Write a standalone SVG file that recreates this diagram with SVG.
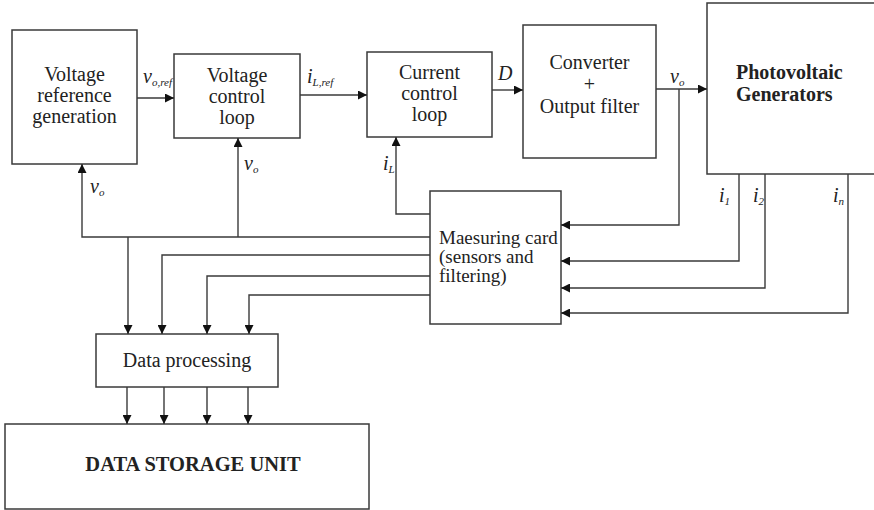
<svg xmlns="http://www.w3.org/2000/svg" width="874" height="510" viewBox="0 0 874 510">
  <style>
    .box { fill: #fff; stroke: #3a3a3a; stroke-width: 1.5; }
    .wire { fill: none; stroke: #3a3a3a; stroke-width: 1.4; }
    .t { font-family: "Liberation Serif", "Times New Roman", serif; font-size: 20px; fill: #222; }
    .c { text-anchor: middle; }
    .b { font-weight: bold; }
    .lbl { font-family: "Liberation Serif", "Times New Roman", serif; font-style: italic; font-size: 20px; fill: #222; }
    .sub { font-size: 11px; }
  </style>
  <defs>
    <marker id="arrow" viewBox="0 0 10 10" refX="10" refY="5" markerWidth="10" markerHeight="9" markerUnits="userSpaceOnUse" orient="auto">
      <path d="M0,0 L10,5 L0,10 Z" fill="#111"/>
    </marker>
  </defs>

  <rect width="874" height="510" fill="#fff"/>

  <!-- blocks -->
  <g id="voltage-reference">
    <rect class="box" x="12" y="30" width="125" height="134"/>
    <text class="t c" x="74.5" y="81">Voltage</text>
    <text class="t c" x="74.5" y="102">reference</text>
    <text class="t c" x="74.5" y="123">generation</text>
  </g>
  <g id="voltage-control">
    <rect class="box" x="174" y="54" width="126" height="84"/>
    <text class="t c" x="237" y="82">Voltage</text>
    <text class="t c" x="237" y="103">control</text>
    <text class="t c" x="237" y="124">loop</text>
  </g>
  <g id="current-control">
    <rect class="box" x="367" y="52" width="125" height="85"/>
    <text class="t c" x="429.5" y="79">Current</text>
    <text class="t c" x="429.5" y="100">control</text>
    <text class="t c" x="429.5" y="121">loop</text>
  </g>
  <g id="converter">
    <rect class="box" x="523" y="25" width="133" height="133"/>
    <text class="t c" x="589.5" y="69">Converter</text>
    <text class="t c" x="589.5" y="91">+</text>
    <text class="t c" x="589.5" y="113">Output filter</text>
  </g>
  <g id="pv-generators">
    <rect class="box" x="707" y="3" width="180" height="171"/>
    <text class="t b" x="736" y="79">Photovoltaic</text>
    <text class="t b" x="736" y="101">Generators</text>
  </g>
  <g id="measuring-card">
    <rect class="box" x="430" y="191" width="131" height="133"/>
    <text class="t" x="439" y="244" style="font-size:19px">Maesuring card</text>
    <text class="t" x="439" y="263" style="font-size:19px">(sensors and</text>
    <text class="t" x="439" y="282" style="font-size:19px">filtering)</text>
  </g>
  <g id="data-processing">
    <rect class="box" x="96" y="334" width="182" height="53"/>
    <text class="t c" x="187" y="367">Data processing</text>
  </g>
  <g id="data-storage">
    <rect class="box" x="5" y="424" width="364" height="85"/>
    <text class="t c b" x="193" y="471" style="font-size:20.5px">DATA STORAGE UNIT</text>
  </g>

  <!-- connectors -->
  <g id="connectors">
    <!-- forward control chain -->
    <path class="wire" d="M137,98 H174" marker-end="url(#arrow)"/>
    <path class="wire" d="M300,95 H367" marker-end="url(#arrow)"/>
    <path class="wire" d="M492,90 H523" marker-end="url(#arrow)"/>
    <path class="wire" d="M656,89 H707" marker-end="url(#arrow)"/>

    <!-- output voltage fed back to the measuring card -->
    <path class="wire" d="M679,89 V225 H561" marker-end="url(#arrow)"/>
    <!-- string currents -->
    <path class="wire" d="M739,174 V261 H561" marker-end="url(#arrow)"/>
    <path class="wire" d="M765,174 V288 H561" marker-end="url(#arrow)"/>
    <path class="wire" d="M848,174 V313 H561" marker-end="url(#arrow)"/>

    <!-- measured signals back to the controllers -->
    <path class="wire" d="M430,214 H396 V137" marker-end="url(#arrow)"/>
    <path class="wire" d="M430,237 H82 V164" marker-end="url(#arrow)"/>
    <path class="wire" d="M238,237 V138" marker-end="url(#arrow)"/>

    <!-- measured signals to data processing -->
    <path class="wire" d="M128,237 V334" marker-end="url(#arrow)"/>
    <path class="wire" d="M430,255 H162 V334" marker-end="url(#arrow)"/>
    <path class="wire" d="M430,276 H207 V334" marker-end="url(#arrow)"/>
    <path class="wire" d="M430,295 H249 V334" marker-end="url(#arrow)"/>

    <!-- data processing to storage -->
    <path class="wire" d="M127,387 V424" marker-end="url(#arrow)"/>
    <path class="wire" d="M164,387 V424" marker-end="url(#arrow)"/>
    <path class="wire" d="M207,387 V424" marker-end="url(#arrow)"/>
    <path class="wire" d="M248,387 V424" marker-end="url(#arrow)"/>
  </g>

  <!-- signal labels -->
  <g id="labels">
    <text class="lbl" x="143" y="83">v<tspan class="sub" dy="3">o,ref</tspan></text>
    <text class="lbl" x="307" y="83">i<tspan class="sub" dy="3">L,ref</tspan></text>
    <text class="lbl" x="498" y="80">D</text>
    <text class="lbl" x="670" y="83">v<tspan class="sub" dy="3">o</tspan></text>
    <text class="lbl" x="90" y="193">v<tspan class="sub" dy="3">o</tspan></text>
    <text class="lbl" x="244" y="170">v<tspan class="sub" dy="3">o</tspan></text>
    <text class="lbl" x="383" y="170">i<tspan class="sub" dy="3">L</tspan></text>
    <text class="lbl" x="719" y="202">i<tspan class="sub" dy="3">1</tspan></text>
    <text class="lbl" x="753" y="202">i<tspan class="sub" dy="3">2</tspan></text>
    <text class="lbl" x="833" y="202">i<tspan class="sub" dy="3">n</tspan></text>
  </g>
</svg>
